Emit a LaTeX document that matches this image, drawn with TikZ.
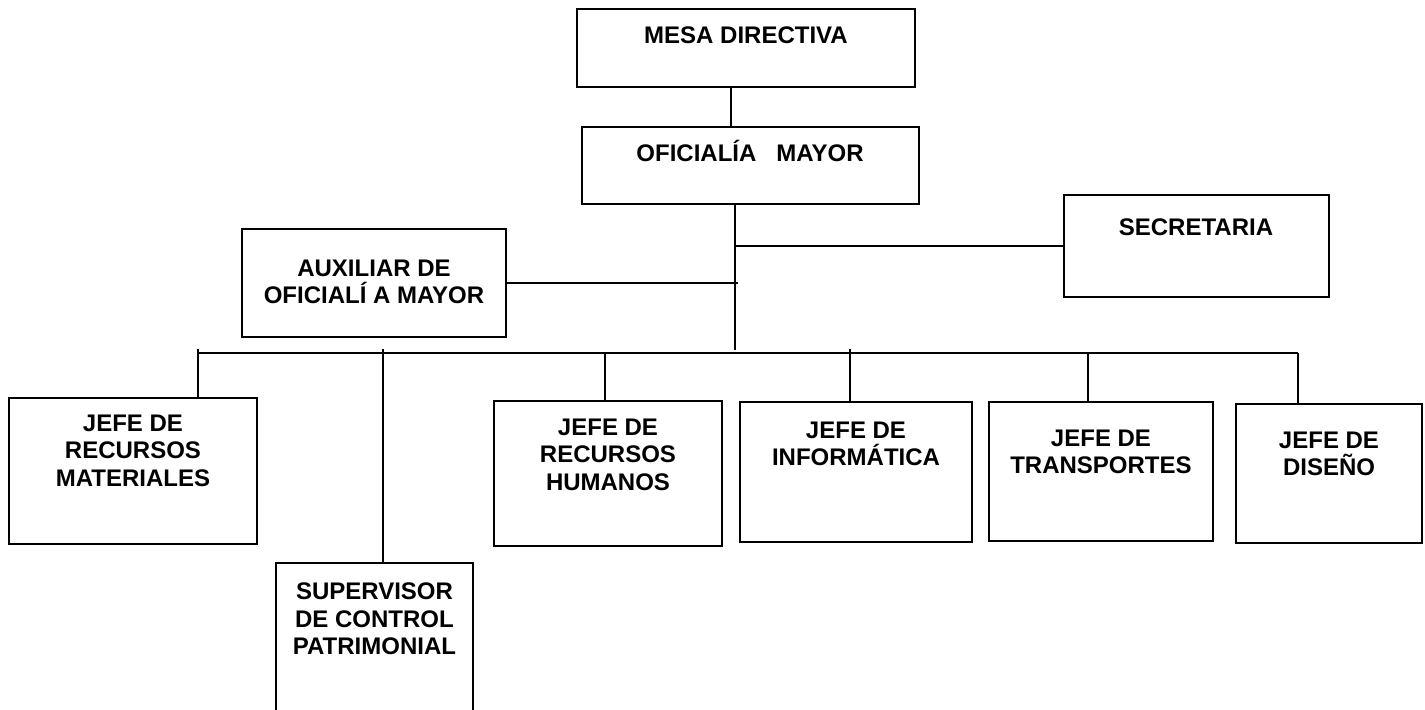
\documentclass[tikz,border=0pt]{standalone}
\usepackage{fontspec}
\setmainfont{Liberation Sans}
\usetikzlibrary{fit}
\begin{document}
\begin{tikzpicture}[x=0.5pt,y=-0.5pt]
        \tikzstyle{unit}=[draw=black,line width=1.2pt,inner sep=0pt]
        \tikzstyle{title}=[anchor=north,inner sep=0pt,align=center,font=\fontsize{12}{13.75}\selectfont\bfseries]
        \tikzstyle{link}=[draw=black,line width=1.2pt]
       \useasboundingbox (0,0) rectangle (1425,709);
       \begin{scope}
         \node [unit,fit={(577,9) (915,87)}] (mesa) {};
         \node [unit,fit={(582,127) (919,204)}] (ofi) {};
         \node [unit,fit={(1064,195) (1329,297)}] (sec) {};
         \node [unit,fit={(242,229) (506,337)}] (aux) {};
         \node [unit,fit={(9,398) (257,544)}] (rm) {};
         \node [unit,fit={(276,563) (473,760)}] (sup) {};
         \node [unit,fit={(494,401) (722,546)}] (rh) {};
         \node [unit,fit={(740,402) (972,542)}] (info) {};
         \node [unit,fit={(989,402) (1213,541)}] (trans) {};
         \node [unit,fit={(1236,404) (1422,543)}] (dis) {};
         \node [title] (mesa-t) at (746,26.4) {MESA DIRECTIVA};
         \node [title,anchor=base] (ofi-t) at (750,161.6) {OFICIALÍA\ \ \ MAYOR};
         \node [title] (sec-t) at (1196,218.4) {SECRETARIA};
         \node [title] (aux-t) at (374,259.4) {AUXILIAR DE\\OFICIALÍ A MAYOR};
         \node [title] (rm-t) at (133,414.4) {JEFE DE\\RECURSOS\\MATERIALES};
         \node [title] (sup-t) at (374.5,582.4) {SUPERVISOR\\DE CONTROL\\PATRIMONIAL};
         \node [title] (rh-t) at (608,418.4) {JEFE DE\\RECURSOS\\HUMANOS};
         \node [title] (info-t) at (856,421.4) {JEFE DE\\INFORMÁTICA};
         \node [title] (trans-t) at (1101,429.4) {JEFE DE\\TRANSPORTES};
         \node [title] (dis-t) at (1329,431.4) {JEFE DE\\DISEÑO};
         \coordinate (j-mesa) at (731,0);
         \coordinate (trunk) at (735,350);
         \coordinate (aux-end) at (738,0);
         \coordinate (bus-l) at (198,353);
         \coordinate (bus-r) at (1298,353);
         \coordinate (d-rm) at (198,349);
         \coordinate (d-sup) at (383,349);
         \coordinate (d-rh) at (605,353);
         \coordinate (d-info) at (850,349);
         \coordinate (d-trans) at (1088,353);
         \path[link] (j-mesa |- mesa.south) -- (j-mesa |- ofi.north);
         \path[link] (trunk |- ofi.south) -- (trunk);
         \path[link] (trunk |- sec.west) -- (sec.west);
         \path[link] (aux.east) -- (aux.east -| aux-end);
         \path[link] (bus-l) -- (bus-r);
         \path[link] (d-rm) -- (d-rm |- rm.north);
         \path[link] (d-sup) -- (d-sup |- sup.north);
         \path[link] (d-rh) -- (d-rh |- rh.north);
         \path[link] (d-info) -- (d-info |- info.north);
         \path[link] (d-trans) -- (d-trans |- trans.north);
         \path[link] (bus-r) -- (bus-r |- dis.north);
        \end{scope}
      \end{tikzpicture}
\end{document}
